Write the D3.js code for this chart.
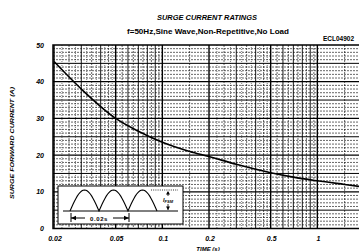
<!DOCTYPE html>
<html><head><meta charset="utf-8">
<script src="https://cdn.jsdelivr.net/npm/d3@7/dist/d3.min.js"></script>
<style>html,body{margin:0;padding:0;background:#fff;overflow:hidden}</style>
</head><body>
<svg id="c" width="359" height="251"></svg>
<script>
// ---- data ----
const timeS = [0.02, 0.03, 0.05, 0.07, 0.1, 0.15, 0.2, 0.3, 0.5, 0.7, 1, 1.5, 2];
const surgeA = [45.5, 38, 30, 26.5, 23.5, 21, 19.6, 17.5, 15.2, 14, 13, 12, 11.3];
const xTicks = [0.02, 0.05, 0.1, 0.2, 0.5, 1];
const xTickLabels = ["0.02", "0.05", "0.1", "0.2", "0.5", "1"];
const yTicks = [0, 10, 20, 30, 40, 50];
const title = "SURGE CURRENT RATINGS";
const subtitle = "f=50Hz,Sine Wave,Non-Repetitive,No Load";
const code = "ECL04902";
const yLabel = "SURGE FORWARD CURRENT (A)";
const xLabel = "TIME (s)";

const svg = d3.select("#c");
const FONT = "'Liberation Sans', Arial, sans-serif";
const L = 53, T = 45, B = 228.5, R = 359;
const x = d3.scaleLog().domain([0.02, 2]).range([54, 364]);
const y = d3.scaleLinear().domain([0, 50]).range([B, T]);

svg.append("defs").append("clipPath").attr("id", "pc")
  .append("rect").attr("x", L).attr("y", T).attr("width", R - L + 5).attr("height", B - T);

const g = svg.append("g").attr("clip-path", "url(#pc)");

// horizontal grid
for (let v = 1; v < 50; v++) {
  const major10 = v % 10 === 0, major5 = v % 5 === 0;
  g.append("line").attr("x1", L).attr("x2", R + 5).attr("y1", y(v)).attr("y2", y(v))
    .attr("stroke", "#000")
    .attr("stroke-width", major10 ? 1.3 : major5 ? 1.0 : 0.6)
    .attr("stroke-dasharray", (major10 || major5) ? null : "2,1");
}
// vertical grid
const majors = [0.02, 0.05, 0.1, 0.2, 0.5, 1, 2];
const vlines = [];
[0.01, 0.1, 1].forEach(dec => {
  for (let m = 1; m <= 9; m++) {
    vlines.push({v: m * dec, t: "int"});
    if (m >= 2) {
      vlines.push({v: (m + 0.5) * dec, t: "half"});
      if (m <= 4) {
        vlines.push({v: (m + 0.25) * dec, t: "q"});
        vlines.push({v: (m + 0.75) * dec, t: "q"});
      }
    } else vlines.push({v: 1.5 * dec, t: "half"});
  }
});
vlines.forEach(d => {
  if (d.v < 0.02 || d.v > 2.2) return;
  const isMaj = majors.some(mv => Math.abs(mv - d.v) < 1e-9);
  g.append("line").attr("x1", x(d.v)).attr("x2", x(d.v)).attr("y1", T).attr("y2", B)
    .attr("stroke", "#000")
    .attr("stroke-width", isMaj ? 1.4 : d.t === "int" ? 0.9 : d.t === "half" ? 0.6 : 0.5)
    .attr("stroke-dasharray", (isMaj || d.t === "int") ? null : d.t === "half" ? "2,1" : "1,1");
});

// curve
g.append("path")
  .datum(timeS.map((t, i) => [t, surgeA[i]]))
  .attr("fill", "none").attr("stroke", "#000").attr("stroke-width", 1.6)
  .attr("d", d3.line().x(d => x(d[0])).y(d => y(d[1])).curve(d3.curveMonotoneX));

// frame
svg.append("rect").attr("x", L).attr("y", T).attr("width", R - L + 10).attr("height", B - T)
  .attr("fill", "none").attr("stroke", "#000").attr("stroke-width", 1.5);

// ---- inset ----
const ins = svg.append("g");
ins.append("rect").attr("x", 58).attr("y", 186).attr("width", 125).attr("height", 38)
  .attr("fill", "#fff").attr("stroke", "#000").attr("stroke-width", 1);
const ix = d3.scaleLinear().domain([0, 0.03]).range([70, 157]);
const iy = d3.scaleLinear().domain([0, 1]).range([211, 190]);
ins.append("line").attr("x1", 63).attr("x2", 178).attr("y1", iy(0)).attr("y2", iy(0))
  .attr("stroke", "#000").attr("stroke-width", 1);
const wave = d3.range(0, 0.03 + 1e-9, 0.0005).map(t => [t, Math.abs(Math.sin(Math.PI * t / 0.01))]);
ins.append("path").datum(wave).attr("fill", "none").attr("stroke", "#000").attr("stroke-width", 1.1)
  .attr("d", d3.line().x(d => ix(d[0])).y(d => iy(d[1])));
ins.append("line").attr("x1", 151).attr("x2", 178).attr("y1", iy(1)).attr("y2", iy(1))
  .attr("stroke", "#000").attr("stroke-width", 0.8).attr("stroke-dasharray", "1,1.2");
// IFSM arrow
const ax = 168;
ins.append("line").attr("x1", ax).attr("x2", ax).attr("y1", iy(1) + 2).attr("y2", 196).attr("stroke", "#000").attr("stroke-width", 0.8);
ins.append("path").attr("d", `M${ax - 2},${iy(1) + 4.5}L${ax},${iy(1) + 1}L${ax + 2},${iy(1) + 4.5}Z`).attr("fill", "#000");
ins.append("line").attr("x1", ax).attr("x2", ax).attr("y1", 204).attr("y2", iy(0) - 1).attr("stroke", "#000").attr("stroke-width", 0.8);
ins.append("path").attr("d", `M${ax - 2},${iy(0) - 4.5}L${ax},${iy(0) - 1}L${ax + 2},${iy(0) - 4.5}Z`).attr("fill", "#000");
const lab = ins.append("text").attr("x", 163).attr("y", 201.5).attr("font-family", FONT)
  .attr("font-size", 5.5).attr("font-style", "italic").attr("font-weight", "bold");
lab.append("tspan").text("I");
lab.append("tspan").attr("font-size", 4).attr("dy", 1.2).text("FSM");
// 0.02s dimension
const dy = 218;
[0, 0.02].forEach(t => ins.append("line").attr("x1", ix(t) + 1).attr("x2", ix(t) + 1).attr("y1", 213).attr("y2", 222)
  .attr("stroke", "#000").attr("stroke-width", 1));
ins.append("line").attr("x1", ix(0) + 1).attr("x2", ix(0.02) + 1).attr("y1", dy).attr("y2", dy)
  .attr("stroke", "#000").attr("stroke-width", 1);
ins.append("path").attr("d", `M${ix(0) + 1},${dy}l5,-2.3v4.6Z`).attr("fill", "#000");
ins.append("path").attr("d", `M${ix(0.02) + 1},${dy}l-5,-2.3v4.6Z`).attr("fill", "#000");
ins.append("rect").attr("x", 85).attr("y", 214).attr("width", 28).attr("height", 8).attr("fill", "#fff");
ins.append("text").attr("x", 99).attr("y", 220.5).attr("text-anchor", "middle").attr("font-family", FONT)
  .attr("font-size", 6).attr("font-weight", "bold").attr("letter-spacing", 0.6).text("0.02s");

// ---- axes labels ----
const tl = svg.append("g").attr("font-family", FONT).attr("font-weight", "bold").attr("font-style", "italic").attr("fill", "#000");
xTicks.forEach((v, i) => tl.append("text").attr("x", x(v) + 1).attr("y", 241).attr("text-anchor", "middle")
  .attr("font-size", 7).text(xTickLabels[i]));
yTicks.forEach(v => tl.append("text").attr("x", 44).attr("y", y(v) + 2.5).attr("text-anchor", "end")
  .attr("font-size", 7).text(v));

svg.append("text").attr("x", 207).attr("y", 19.5).attr("text-anchor", "middle").attr("font-family", FONT)
  .attr("font-size", 7.5).attr("font-weight", "bold").attr("font-style", "italic")
  .attr("textLength", 100).attr("lengthAdjust", "spacingAndGlyphs").text(title);
svg.append("text").attr("x", 208).attr("y", 34).attr("text-anchor", "middle").attr("font-family", FONT)
  .attr("font-size", 6.5).attr("font-weight", "bold")
  .attr("textLength", 162).attr("lengthAdjust", "spacingAndGlyphs").text(subtitle);
svg.append("text").attr("x", 323).attr("y", 41).attr("font-family", FONT)
  .attr("font-size", 6.5).attr("font-weight", "bold").text(code);
svg.append("text").attr("transform", "translate(14,143) rotate(-90)").attr("text-anchor", "middle")
  .attr("font-family", FONT).attr("font-size", 5.8).attr("font-weight", "bold").attr("font-style", "italic")
  .attr("textLength", 112).attr("lengthAdjust", "spacingAndGlyphs").text(yLabel);
svg.append("text").attr("x", 208).attr("y", 251).attr("text-anchor", "middle").attr("font-family", FONT)
  .attr("font-size", 6).attr("font-weight", "bold").attr("font-style", "italic").text(xLabel);
</script>
</body></html>
